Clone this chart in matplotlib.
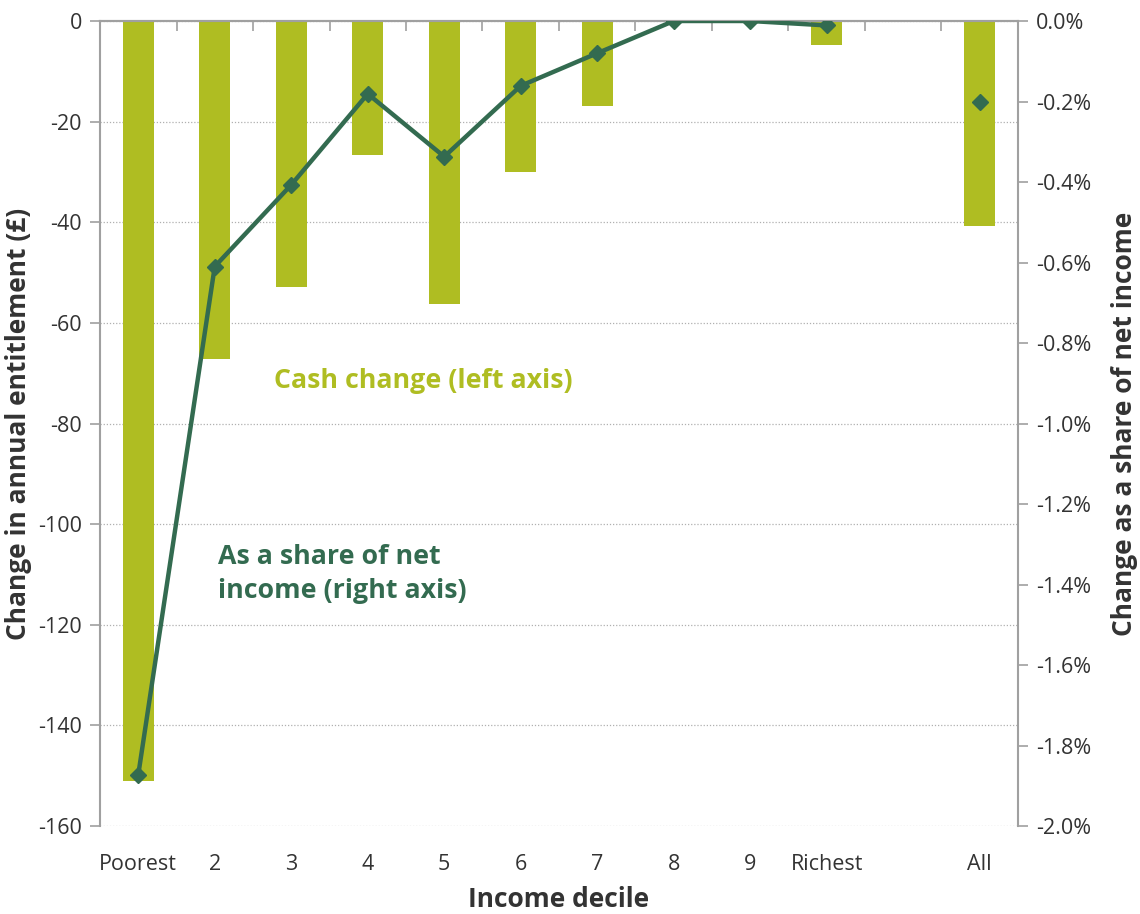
import matplotlib
matplotlib.use("Agg")
import matplotlib.pyplot as plt
import numpy as np
from matplotlib.ticker import FuncFormatter, FixedLocator

plt.rcParams['font.family'] = ['Open Sans', 'DejaVu Sans']

categories = ["Poorest", "2", "3", "4", "5", "6", "7", "8", "9", "Richest", "", "All"]
cash_change = [-151.0, -67.1, -52.8, -26.6, -56.3, -30.0, -16.8, 0.0, 0.0, -4.8, None, -40.7]
share_change = [-1.873, -0.610, -0.407, -0.181, -0.337, -0.161, -0.080, 0.0, 0.0, -0.011]
share_all = -0.200

bar_color = "#AFBD22"
line_color = "#336B50"
text_color = "#333333"
axis_color = "#A0A0A0"

fig = plt.figure(figsize=(11.4, 9.14), dpi=100)
ax = fig.add_axes([100/1140, 1-826/914, 918/1140, 805/914])
ax2 = ax.twinx()

x = np.arange(len(categories))
bar_x = [xi for xi, v in zip(x, cash_change) if v is not None]
bar_v = [v for v in cash_change if v is not None]
ax.bar(bar_x, bar_v, width=0.4, color=bar_color, zorder=2)

ax.set_xlim(-0.5, len(categories) - 0.5)
ax.set_ylim(-160, 0)
ax.set_yticks(np.arange(-160, 1, 20))
ax.yaxis.set_major_formatter(FuncFormatter(lambda v, p: f"{v:.0f}"))
ax.grid(axis='y', linestyle=(0, (1, 1.5)), color="#B0B0B0", linewidth=0.9, zorder=0)
ax.set_axisbelow(True)

# x ticks: labels at bottom, boundary tick marks at top
ax.set_xticks(x)
ax.set_xticklabels(categories)
ax.tick_params(axis='x', which='major', length=0, pad=20, labelsize=15.5, labelcolor=text_color)
ax.xaxis.set_minor_locator(FixedLocator(np.arange(-0.5, len(categories), 1.0)))
ax.tick_params(axis='x', which='minor', bottom=False, top=True, direction='in', length=7, color=axis_color, width=1.2)
ax.tick_params(axis='y', length=7, color=axis_color, width=1.2, labelsize=15.5, labelcolor=text_color, pad=6)

for side in ['bottom']:
    ax.spines[side].set_visible(False)
    ax2.spines[side].set_visible(False)
for sp in [ax.spines['left'], ax.spines['top'], ax2.spines['right'], ax2.spines['top']]:
    sp.set_color(axis_color)
    sp.set_linewidth(1.5)
ax2.spines['left'].set_visible(False)
ax.spines['right'].set_visible(False)

ax2.plot(x[:len(share_change)], share_change, color=line_color, linewidth=3.2,
         marker='D', markersize=8, zorder=3)
ax2.plot([x[-1]], [share_all], color=line_color, linestyle='none', marker='D', markersize=8, zorder=3)
ax2.set_ylim(-2.0, 0)
ax2.set_yticks(np.arange(-2.0, 0.01, 0.2))
ax2.yaxis.set_major_formatter(FuncFormatter(lambda v, p: f"{v:.1f}%" if abs(v) > 1e-9 else "0.0%"))
ax2.tick_params(axis='y', length=7, color=axis_color, width=1.2, labelsize=15.5, labelcolor=text_color, pad=6)

ax.set_ylabel("Change in annual entitlement (£)", fontsize=19, fontweight='bold', color=text_color, labelpad=4)
ax2.set_ylabel("Change as a share of net income", fontsize=19, fontweight='bold', color=text_color, labelpad=14)
ax.set_xlabel("Income decile", fontsize=19, fontweight='bold', color=text_color, labelpad=8)

ax.text(0.19, 0.553, "Cash change (left axis)", transform=ax.transAxes, fontsize=19.3,
        fontweight='bold', color=bar_color, va='center', ha='left', zorder=5)
ax.text(0.1285, 0.313, "As a share of net\nincome (right axis)", transform=ax.transAxes, fontsize=19.3,
        fontweight='bold', color=line_color, va='center', ha='left', linespacing=1.4, zorder=5)

fig.savefig("out.png", dpi=100)
